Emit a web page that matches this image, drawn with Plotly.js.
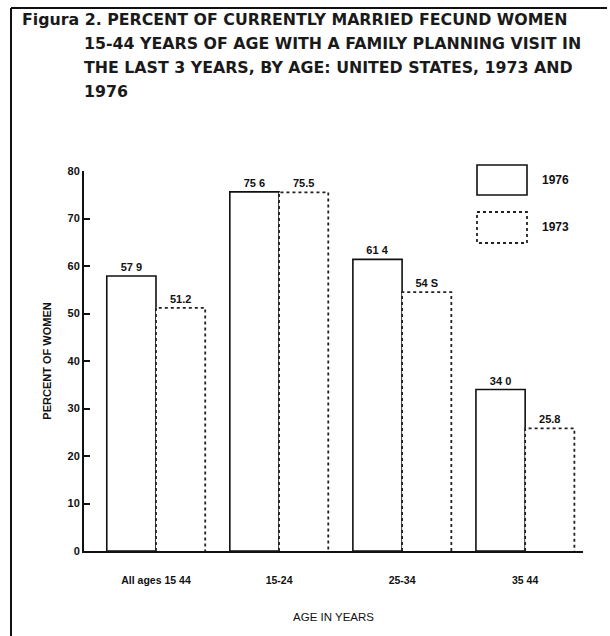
<!DOCTYPE html>
<html>
<head>
<meta charset="utf-8">
<script src="https://cdn.plot.ly/plotly-3.0.1.min.js"></script>
<style>html,body{margin:0;padding:0;background:#fff;}#chart{width:610px;height:636px;}</style>
</head>
<body>
<div id="chart"></div>
<script>
// ---- data ----
const categories = ["All ages 15 44", "15-24", "25-34", "35 44"];
const values1976 = [57.9, 75.6, 61.4, 34.0];
const values1973 = [51.2, 75.5, 54.5, 25.8];
const labels1976 = ["57 9", "75 6", "61 4", "34 0"];
const labels1973 = ["51.2", "75.5", "54 S", "25.8"];
const yTickVals = [0, 10, 20, 30, 40, 50, 60, 70, 80];
const titleLines = [
  "Figura 2. PERCENT OF CURRENTLY MARRIED FECUND WOMEN",
  "15-44 YEARS OF AGE WITH A FAMILY PLANNING VISIT IN",
  "THE LAST 3 YEARS, BY AGE: UNITED STATES, 1973 AND",
  "1976"
];
const seriesNames = ["1976", "1973"];

// ---- layout helpers (pixel -> paper) ----
const W = 610, H = 636;
const M = {l: 84, r: 27, t: 171, b: 85};
const PW = W - M.l - M.r, PH = H - M.t - M.b;
const px = x => (x - M.l) / PW;
const py = y => (H - M.b - y) / PH;

const barW = 0.4;
const xIdx = categories.map((c, i) => i);
const FONT = "Liberation Sans, Arial, sans-serif";
const TFONT = "DejaVu Sans, sans-serif";

// dotted outline for 1973 bars, derived from data
const ox = [], oy = [];
values1973.forEach((v, i) => {
  ox.push(i, i, i + barW, i + barW, null);
  oy.push(0, v, v, 0, null);
});

const traces = [
  {
    type: "bar", name: seriesNames[0], x: xIdx, y: values1976,
    offset: -barW, width: barW,
    marker: {color: "#ffffff", line: {color: "#111", width: 1.6}},
    text: labels1976, textposition: "outside", cliponaxis: false,
    textfont: {family: FONT, size: 11, color: "#111", weight: "bold"},
    hoverinfo: "skip", showlegend: false
  },
  {
    type: "bar", name: seriesNames[1], x: xIdx, y: values1973,
    offset: 0, width: barW,
    marker: {color: "#ffffff", line: {color: "rgba(0,0,0,0)", width: 0}},
    text: labels1973, textposition: "outside", cliponaxis: false,
    textfont: {family: FONT, size: 11, color: "#111", weight: "bold"},
    hoverinfo: "skip", showlegend: false
  },
  {
    type: "scatter", mode: "lines", x: ox, y: oy,
    line: {color: "#222", width: 1.8, dash: "dot"},
    hoverinfo: "skip", showlegend: false, cliponaxis: false
  }
];

const annotations = [];
titleLines.forEach((t, i) => {
  annotations.push({
    xref: "paper", yref: "paper", x: px(i === 0 ? 20 : 82), y: py(19 + i * 24),
    xanchor: "left", yanchor: "middle", showarrow: false, text: t,
    font: {family: TFONT, size: 15.8, color: "#1a1a1a", weight: "bold"}
  });
});
// legend labels
annotations.push({xref: "paper", yref: "paper", x: px(540), y: py(180), xanchor: "left", yanchor: "middle",
  showarrow: false, text: seriesNames[0], font: {family: FONT, size: 12, color: "#111", weight: "bold"}});
annotations.push({xref: "paper", yref: "paper", x: px(540), y: py(227), xanchor: "left", yanchor: "middle",
  showarrow: false, text: seriesNames[1], font: {family: FONT, size: 12, color: "#111", weight: "bold"}});

const shapes = [
  // frame
  {type: "line", xref: "paper", yref: "paper", x0: px(11), x1: px(11), y0: py(8), y1: py(640), line: {color: "#111", width: 2}},
  {type: "line", xref: "paper", yref: "paper", x0: px(11), x1: px(607), y0: py(8), y1: py(8), line: {color: "#111", width: 2}},
  // legend boxes
  {type: "rect", xref: "paper", yref: "paper", x0: px(477), x1: px(527), y0: py(165), y1: py(195), line: {color: "#111", width: 1.6}, fillcolor: "#fff"},
  {type: "rect", xref: "paper", yref: "paper", x0: px(477), x1: px(527), y0: py(212), y1: py(243), line: {color: "#222", width: 1.8, dash: "dot"}, fillcolor: "#fff"}
];

const layout = {
  width: W, height: H,
  margin: M,
  paper_bgcolor: "#fff", plot_bgcolor: "#fff",
  showlegend: false,
  xaxis: {
    range: [-0.585, 3.47], tickvals: xIdx, ticktext: categories,
    showgrid: false, zeroline: false, showline: true, linecolor: "#111", linewidth: 2,
    ticks: "", ticklabelstandoff: 18,
    tickfont: {family: FONT, size: 10.5, color: "#111", weight: "bold"},
    title: {text: "AGE IN YEARS", standoff: 28, font: {family: FONT, size: 11.5, color: "#111"}}
  },
  yaxis: {
    range: [0, 80], tickvals: yTickVals,
    showgrid: false, zeroline: false, showline: true, linecolor: "#111", linewidth: 2,
    ticks: "inside", ticklen: 6, tickwidth: 2, tickcolor: "#111",
    tickfont: {family: FONT, size: 11, color: "#111", weight: "bold"},
    title: {text: "PERCENT OF WOMEN", standoff: 14, font: {family: FONT, size: 11, color: "#111", weight: "bold"}}
  },
  annotations: annotations,
  shapes: shapes
};

Plotly.newPlot("chart", traces, layout, {displayModeBar: false, staticPlot: true});
</script>
</body>
</html>
